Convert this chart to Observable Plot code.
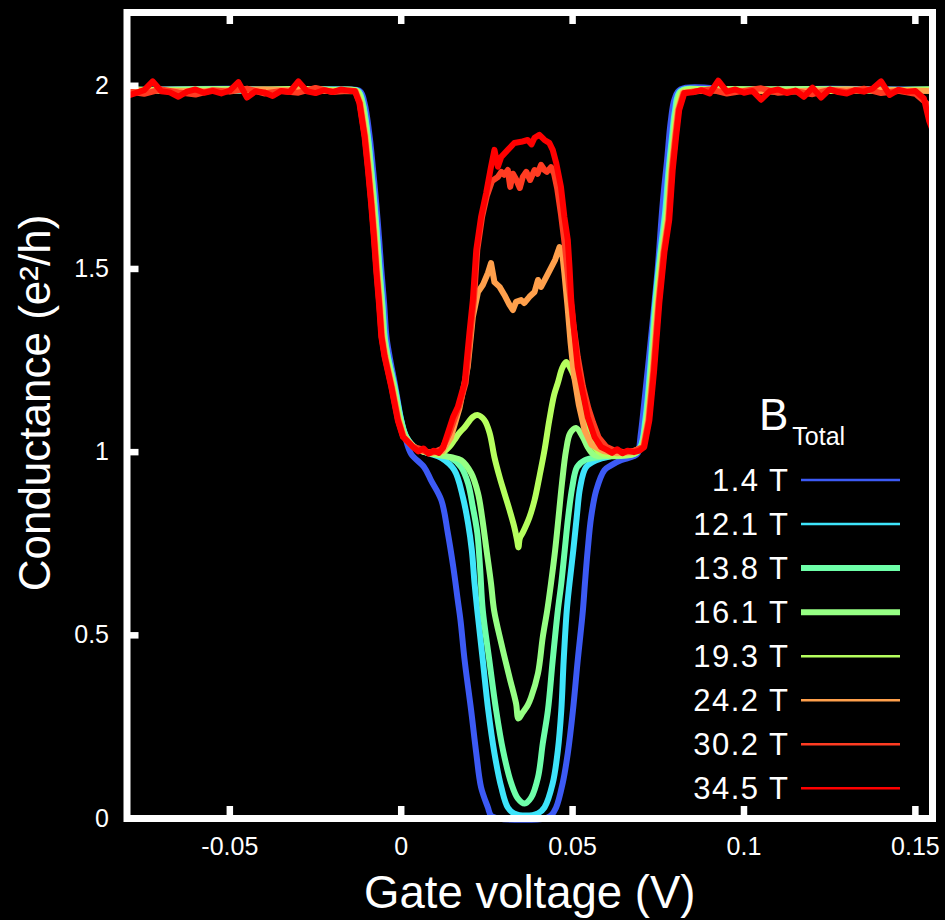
<!DOCTYPE html>
<html>
<head>
<meta charset="utf-8">
<script src="https://cdn.jsdelivr.net/npm/d3@7"></script>
<script src="https://cdn.jsdelivr.net/npm/@observablehq/plot@0.6"></script>
<style>
  html, body { margin: 0; padding: 0; background: #000; }
  #chart { width: 945px; height: 920px; }
</style>
</head>
<body>
<div id="chart"></div>
<script>
// Magnetic field of each sweep, its colour, and the stroke used in the legend key
const fields = ["1.4 T", "12.1 T", "13.8 T", "16.1 T", "19.3 T", "24.2 T", "30.2 T", "34.5 T"];
const colors = ["#3c5af5", "#3ee4fb", "#6effa9", "#96ff84", "#b6ff5e", "#ffa04c", "#ff3c22", "#ff0000"];
const keyWidths = [2.5, 2.5, 6, 6, 2.5, 2.5, 2.5, 2.5];
const smooth = [true, true, true, true, true, false, false, false];

const xTicks = [-0.05, 0, 0.05, 0.1, 0.15];
const yTicks = [0, 0.5, 1, 1.5, 2];

// [gate voltage (V), conductance (e²/h)]
const b1p4 = [
  [-0.080,1.988],[-0.050,1.992],[-0.030,1.987],[-0.016,1.990],
  [-0.0120,1.985],[-0.0107,1.953],[-0.0092,1.861],[-0.0082,1.770],[-0.0073,1.680],[-0.0065,1.588],
  [-0.0058,1.497],[-0.0050,1.407],[-0.0043,1.315],[-0.0034,1.262],[-0.0017,1.178],[0.0000,1.087],
  [0.0012,1.040],[0.0029,0.995],[0.0067,0.959],[0.0087,0.923],[0.0117,0.869],[0.0136,0.779],
  [0.0152,0.686],[0.0165,0.596],[0.0173,0.541],[0.0185,0.432],[0.0204,0.295],[0.0219,0.178],
  [0.0233,0.085],[0.0253,0.030],[0.0262,0.008],[0.0285,0.000],[0.0420,0.000],[0.0437,0.008],
  [0.0452,0.030],[0.0471,0.096],[0.0486,0.178],[0.0501,0.295],[0.0515,0.432],[0.0530,0.568],
  [0.0536,0.642],[0.0544,0.732],[0.0554,0.822],[0.0569,0.896],[0.0593,0.951],[0.0612,0.964],
  [0.0641,0.978],[0.0679,0.989],[0.0690,0.997],[0.0699,1.050],[0.0709,1.134],[0.0729,1.314],
  [0.0748,1.497],[0.0763,1.680],[0.0776,1.800],[0.0786,1.900],[0.0798,1.965],[0.0815,1.990],
  [0.100,1.988],[0.125,1.992],[0.155,1.988]
];
const b12p1 = [
  [-0.080,1.990],[-0.050,1.986],[-0.030,1.991],[-0.016,1.988],
  [-0.0125,1.985],[-0.0112,1.953],[-0.0097,1.861],[-0.0087,1.770],[-0.0078,1.680],[-0.0070,1.588],
  [-0.0063,1.497],[-0.0055,1.407],[-0.0048,1.315],[-0.0039,1.262],[-0.0019,1.178],[0.0000,1.087],
  [0.0015,1.042],[0.0044,1.010],[0.0080,0.997],[0.0117,0.984],[0.0155,0.951],[0.0180,0.877],
  [0.0195,0.806],[0.0206,0.732],[0.0214,0.642],[0.0222,0.568],[0.0238,0.432],[0.0254,0.295],
  [0.0272,0.178],[0.0292,0.085],[0.0311,0.030],[0.0329,0.014],[0.0364,0.008],[0.0399,0.014],
  [0.0418,0.030],[0.0442,0.096],[0.0457,0.186],[0.0467,0.295],[0.0474,0.432],[0.0483,0.568],
  [0.0491,0.642],[0.0502,0.732],[0.0512,0.822],[0.0522,0.904],[0.0539,0.959],[0.0569,0.978],
  [0.0612,0.989],[0.0671,0.997],
  [0.0697,1.014],[0.0712,1.087],[0.0726,1.224],[0.0741,1.407],[0.0756,1.546],[0.0770,1.655],
  [0.0780,1.770],[0.0790,1.861],[0.0799,1.934],[0.0814,1.985],[0.090,1.990],[0.120,1.987],[0.155,1.990]
];
const b13p8 = [
  [-0.080,1.987],[-0.050,1.990],[-0.030,1.986],[-0.016,1.989],
  [-0.0126,1.985],[-0.0113,1.953],[-0.0098,1.861],[-0.0088,1.770],[-0.0079,1.680],[-0.0071,1.588],
  [-0.0064,1.497],[-0.0056,1.407],[-0.0049,1.315],[-0.0040,1.262],[-0.0020,1.178],[-0.0001,1.087],
  [0.0014,1.042],[0.0043,1.010],[0.0090,0.995],[0.0146,0.984],[0.0175,0.959],[0.0195,0.915],
  [0.0209,0.850],[0.0222,0.779],[0.0230,0.686],[0.0238,0.568],[0.0257,0.432],[0.0277,0.295],
  [0.0297,0.186],[0.0321,0.096],[0.0340,0.055],[0.0360,0.041],[0.0379,0.057],[0.0399,0.112],
  [0.0413,0.205],[0.0428,0.295],[0.0442,0.432],[0.0457,0.568],[0.0467,0.642],[0.0477,0.732],
  [0.0487,0.822],[0.0499,0.904],[0.0513,0.959],[0.0536,0.978],[0.0574,0.986],[0.0627,0.992],
  [0.0679,0.995],
  [0.0699,1.014],[0.0714,1.087],[0.0728,1.224],[0.0743,1.407],[0.0758,1.546],[0.0772,1.650],
  [0.0782,1.770],[0.0792,1.861],[0.0801,1.934],[0.0816,1.985],[0.090,1.990],[0.120,1.987],[0.155,1.990]
];
const b16p1 = [
  [-0.080,1.988],[-0.050,1.991],[-0.025,1.986],[-0.017,1.990],
  [-0.0128,1.985],[-0.0115,1.953],[-0.0100,1.861],[-0.0090,1.770],[-0.0081,1.680],[-0.0073,1.588],
  [-0.0066,1.497],[-0.0058,1.407],[-0.0051,1.315],[-0.0042,1.262],[-0.0022,1.178],[-0.0003,1.087],
  [0.0012,1.042],[0.0041,1.012],[0.0090,0.996],[0.0146,0.986],[0.0175,0.978],[0.0204,0.943],
  [0.0224,0.888],[0.0236,0.822],[0.0249,0.732],[0.0262,0.642],[0.0271,0.568],[0.0292,0.478],
  [0.0316,0.385],[0.0335,0.314],[0.0342,0.273],[0.0355,0.290],[0.0369,0.309],[0.0379,0.331],
  [0.0399,0.396],[0.0413,0.495],[0.0426,0.568],[0.0437,0.642],[0.0449,0.732],[0.0459,0.822],
  [0.0469,0.915],[0.0481,1.005],[0.0493,1.052],[0.0510,1.066],[0.0530,1.041],[0.0544,1.014],
  [0.0564,0.992],[0.0612,0.989],[0.0679,0.995],
  [0.0701,1.014],[0.0716,1.087],[0.0730,1.224],[0.0745,1.407],[0.0760,1.546],[0.0774,1.645],
  [0.0784,1.770],[0.0794,1.861],[0.0803,1.934],[0.0818,1.985],[0.090,1.988],[0.120,1.991],[0.155,1.987]
];
const b19p3 = [
  [-0.080,1.990],[-0.055,1.987],[-0.030,1.991],[-0.018,1.988],
  [-0.0130,1.985],[-0.0117,1.953],[-0.0102,1.861],[-0.0092,1.770],[-0.0083,1.680],[-0.0075,1.588],
  [-0.0068,1.497],[-0.0060,1.407],[-0.0053,1.315],[-0.0044,1.262],[-0.0024,1.178],[-0.0005,1.087],
  [0.0010,1.042],[0.0039,1.012],[0.0080,0.998],[0.0117,0.997],[0.0140,1.014],[0.0155,1.033],
  [0.0169,1.052],[0.0185,1.068],[0.0209,1.096],[0.0224,1.101],[0.0243,1.087],[0.0258,1.052],
  [0.0272,0.986],[0.0287,0.932],[0.0301,0.888],[0.0316,0.842],[0.0330,0.795],[0.0338,0.760],
  [0.0342,0.740],[0.0346,0.765],[0.0355,0.781],[0.0374,0.822],[0.0389,0.869],[0.0403,0.932],
  [0.0418,1.005],[0.0432,1.087],[0.0446,1.156],[0.0457,1.189],[0.0470,1.230],[0.0481,1.246],
  [0.0493,1.230],[0.0505,1.205],[0.0525,1.142],[0.0544,1.068],[0.0564,1.014],[0.0583,0.997],
  [0.0627,0.992],[0.0679,0.997],
  [0.0703,1.014],[0.0718,1.087],[0.0732,1.224],[0.0747,1.407],[0.0762,1.546],[0.0776,1.640],
  [0.0786,1.770],[0.0796,1.861],[0.0805,1.934],[0.0820,1.983],[0.090,1.990],[0.120,1.986],[0.155,1.990]
];
const b24p2 = [
  [-0.080,1.988],[-0.060,1.985],[-0.040,1.990],[-0.020,1.986],
  [-0.0132,1.985],[-0.0119,1.953],[-0.0104,1.861],[-0.0094,1.770],[-0.0085,1.680],[-0.0077,1.588],
  [-0.0070,1.497],[-0.0062,1.407],[-0.0055,1.315],[-0.0046,1.262],[-0.0026,1.178],[-0.0007,1.087],
  [0.0008,1.042],[0.0037,1.014],[0.0060,1.003],[0.0090,0.998],[0.0120,1.003],
  [0.0145,1.040],[0.0170,1.120],[0.0194,1.232],[0.0209,1.369],[0.0224,1.437],
  [0.0238,1.456],[0.0253,1.489],[0.0262,1.516],[0.0272,1.464],[0.0287,1.451],[0.0301,1.429],
  [0.0316,1.402],[0.0326,1.388],[0.0335,1.410],[0.0350,1.415],[0.0359,1.407],[0.0374,1.424],
  [0.0389,1.437],[0.0399,1.470],[0.0408,1.451],[0.0423,1.478],[0.0437,1.503],[0.0449,1.525],
  [0.0462,1.560],[0.0471,1.533],[0.0476,1.489],
  [0.0485,1.400],[0.0494,1.300],[0.0504,1.210],[0.0518,1.130],[0.0535,1.060],[0.0555,1.020],
  [0.0590,1.003],[0.0630,0.997],[0.0670,1.000],
  [0.0705,1.014],[0.0720,1.087],[0.0734,1.224],[0.0749,1.407],[0.0764,1.546],[0.0778,1.636],
  [0.0788,1.770],[0.0798,1.861],[0.0807,1.934],[0.0822,1.982],[0.090,1.988],[0.110,1.984],
  [0.130,1.990],[0.155,1.986]
];
const b30p2 = [
  [-0.080,1.985],[-0.075,1.978],[-0.070,1.990],[-0.065,1.982],[-0.060,1.976],[-0.055,1.988],
  [-0.050,1.984],[-0.045,1.992],[-0.040,1.979],[-0.035,1.986],[-0.030,1.981],[-0.025,1.994],
  [-0.020,1.983],[-0.015,1.987],
  [-0.0134,1.985],[-0.0121,1.953],[-0.0106,1.861],[-0.0096,1.770],[-0.0087,1.680],[-0.0079,1.588],
  [-0.0072,1.497],[-0.0064,1.407],[-0.0057,1.315],[-0.0048,1.262],[-0.0028,1.178],[-0.0009,1.087],
  [0.0006,1.042],[0.0035,1.014],[0.0058,1.008],[0.0080,0.997],[0.0100,1.002],[0.0120,1.010],
  [0.0140,1.050],[0.0168,1.123],[0.0188,1.189],[0.0202,1.325],[0.0212,1.415],[0.0222,1.552],
  [0.0236,1.642],[0.0250,1.700],[0.0265,1.740],
  [0.0282,1.751],[0.0292,1.765],[0.0300,1.757],[0.0311,1.770],[0.0318,1.724],[0.0326,1.760],
  [0.0335,1.745],[0.0346,1.721],[0.0355,1.752],[0.0365,1.765],[0.0376,1.743],[0.0389,1.770],
  [0.0398,1.760],[0.0408,1.784],[0.0418,1.770],[0.0425,1.765],[0.0437,1.778],[0.0446,1.760],
  [0.0455,1.720],
  [0.0466,1.650],[0.0478,1.560],[0.0490,1.450],[0.0502,1.350],[0.0515,1.260],[0.0530,1.180],
  [0.0546,1.120],[0.0560,1.080],[0.0576,1.040],[0.0598,1.015],[0.0620,1.005],[0.0650,1.000],
  [0.0680,1.004],
  [0.0707,1.014],[0.0722,1.087],[0.0736,1.224],[0.0751,1.407],[0.0766,1.546],[0.0780,1.634],
  [0.0790,1.770],[0.0800,1.861],[0.0809,1.934],[0.0824,1.980],
  [0.085,1.984],[0.090,1.990],[0.095,1.979],[0.100,1.986],[0.105,1.993],[0.110,1.981],
  [0.115,1.985],[0.120,1.977],[0.125,1.989],[0.130,1.983],[0.135,1.992],[0.140,1.980],
  [0.145,1.986],[0.150,1.978],[0.1535,1.950],[0.155,1.905]
];
const b34p5 = [
  [-0.0800,1.972],[-0.0775,1.980],[-0.0750,1.988],[-0.0725,2.012],[-0.0700,1.985],[-0.0675,1.982],
  [-0.0650,1.970],[-0.0625,1.984],[-0.0600,1.990],[-0.0575,1.981],[-0.0550,1.986],[-0.0525,1.979],
  [-0.0500,1.987],[-0.0475,2.010],[-0.0450,1.968],[-0.0425,1.985],[-0.0400,1.982],[-0.0375,1.972],
  [-0.0350,1.986],[-0.0325,1.983],[-0.0300,2.012],[-0.0275,1.985],[-0.0250,1.980],[-0.0225,1.988],
  [-0.0200,1.983],[-0.0175,1.990],[-0.0150,1.986],
  [-0.0135,1.985],[-0.0122,1.953],[-0.0107,1.861],[-0.0097,1.770],[-0.0088,1.680],[-0.0080,1.588],
  [-0.0073,1.497],[-0.0065,1.407],[-0.0058,1.315],[-0.0049,1.262],[-0.0029,1.178],[-0.0010,1.087],
  [0.0005,1.042],[0.0034,1.014],
  [0.0050,1.002],[0.0065,1.010],[0.0080,0.996],[0.0095,1.004],[0.0110,0.998],[0.0122,1.012],
  [0.0136,1.052],[0.0151,1.095],[0.0165,1.123],[0.0185,1.189],[0.0199,1.325],[0.0209,1.415],
  [0.0219,1.552],[0.0233,1.642],[0.0248,1.708],[0.0262,1.779],[0.0272,1.825],[0.0282,1.779],
  [0.0292,1.806],[0.0311,1.825],[0.0330,1.844],[0.0350,1.847],[0.0369,1.852],[0.0380,1.840],
  [0.0389,1.858],[0.0403,1.866],[0.0418,1.852],[0.0432,1.844],[0.0442,1.825],[0.0452,1.790],
  [0.0466,1.724],[0.0476,1.642],[0.0486,1.579],[0.0491,1.505],[0.0496,1.415],[0.0505,1.325],
  [0.0515,1.232],[0.0530,1.161],[0.0544,1.096],[0.0564,1.041],[0.0583,1.014],[0.0600,1.006],
  [0.0615,0.998],[0.0630,1.008],[0.0645,0.997],[0.0660,1.004],[0.0679,1.000],
  [0.0695,1.004],[0.0709,1.014],[0.0724,1.087],[0.0738,1.224],[0.0753,1.407],[0.0768,1.546],
  [0.0782,1.634],[0.0792,1.770],[0.0802,1.861],[0.0811,1.934],[0.0826,1.980],
  [0.0850,1.982],[0.0875,1.988],[0.0900,1.979],[0.0925,2.014],[0.0950,1.984],[0.0975,1.990],
  [0.1000,1.981],[0.1025,1.986],[0.1050,1.962],[0.1075,1.985],[0.1100,1.990],[0.1125,1.980],
  [0.1150,1.987],[0.1175,1.970],[0.1200,1.995],[0.1225,1.968],[0.1250,1.990],[0.1275,1.983],
  [0.1300,1.979],[0.1325,1.988],[0.1350,1.984],[0.1375,1.992],[0.1400,2.012],[0.1425,1.975],
  [0.1450,1.989],[0.1475,1.984],[0.1500,1.986],[0.1525,1.965],[0.1540,1.905],[0.1550,1.880]
];

const sweeps = [b1p4, b12p1, b13p8, b16p1, b19p3, b24p2, b30p2, b34p5];

// Layout of the framed plotting area
const W = 945, H = 920;
const M = {left: 126.5, right: 13, top: 12, bottom: 102};
const plotW = W - M.left - M.right;
const plotH = H - M.top - M.bottom;
const tickLen = 12;
const FONT = "'Liberation Sans', Arial, Helvetica, sans-serif";

const marks = [];
sweeps.forEach((pts, i) => {
  marks.push(Plot.line(pts, {
    x: d => d[0], y: d => d[1],
    stroke: colors[i], strokeWidth: 6,
    curve: smooth[i] ? "catmull-rom" : "linear",
    strokeLinejoin: "round", strokeLinecap: "round"
  }));
});
// inward ticks: bottom and top on x, left on y
marks.push(Plot.tickX(xTicks, {x: d => d, stroke: "#fff", strokeWidth: 6.5, insetTop: plotH - tickLen}));
marks.push(Plot.tickX(xTicks, {x: d => d, stroke: "#fff", strokeWidth: 6.5, insetBottom: plotH - tickLen}));
marks.push(Plot.tickY(yTicks, {y: d => d, stroke: "#fff", strokeWidth: 6.5, insetRight: plotW - tickLen}));
marks.push(Plot.frame({stroke: "#fff", strokeWidth: 7}));
marks.push(Plot.axisX(xTicks, {tickSize: 0, tickPadding: 19, fontSize: 25, fill: "#fff", tickFormat: d => String(d), label: null}));
marks.push(Plot.axisY(yTicks, {tickSize: 0, tickPadding: 18, fontSize: 25, fill: "#fff", tickFormat: d => String(d), label: null}));
marks.push(Plot.text(["Gate voltage (V)"], {
  text: d => d, frameAnchor: "bottom", textAnchor: "middle", dy: 89, fontSize: 45.5, fill: "#fff"
}));
marks.push(Plot.text(["Conductance (e²/h)"], {
  text: d => d, frameAnchor: "left", textAnchor: "middle", dx: -91.5, dy: -12.5, rotate: -90, fontSize: 44, fill: "#fff"
}));

const chart = Plot.plot({
  width: W, height: H,
  marginLeft: M.left, marginRight: M.right, marginTop: M.top, marginBottom: M.bottom,
  style: {background: "#000", color: "#fff", fontFamily: FONT},
  x: {domain: [-0.08, 0.155]},
  y: {domain: [0, 2.2]},
  marks
});

// Field key inside the lower-right of the frame
const key = d3.select(chart).append("g")
  .attr("font-family", FONT).attr("fill", "#fff");
const head = key.append("text").attr("x", 759).attr("y", 430)
  .attr("text-anchor", "start").attr("font-size", 44);
head.append("tspan").text("B");
head.append("tspan").attr("dx", 4).attr("dy", 15).attr("font-size", 25).text("Total");
fields.forEach((f, i) => {
  const cy = 480 + 44.05 * i;
  key.append("text").attr("x", 789.5).attr("y", cy + 10.7)
    .attr("text-anchor", "end").attr("font-size", 31).attr("letter-spacing", 1.5).text(f);
  key.append("line").attr("x1", 801).attr("x2", 900).attr("y1", cy).attr("y2", cy)
    .attr("stroke", colors[i]).attr("stroke-width", keyWidths[i]);
});

document.getElementById("chart").appendChild(chart);
</script>
</body>
</html>
